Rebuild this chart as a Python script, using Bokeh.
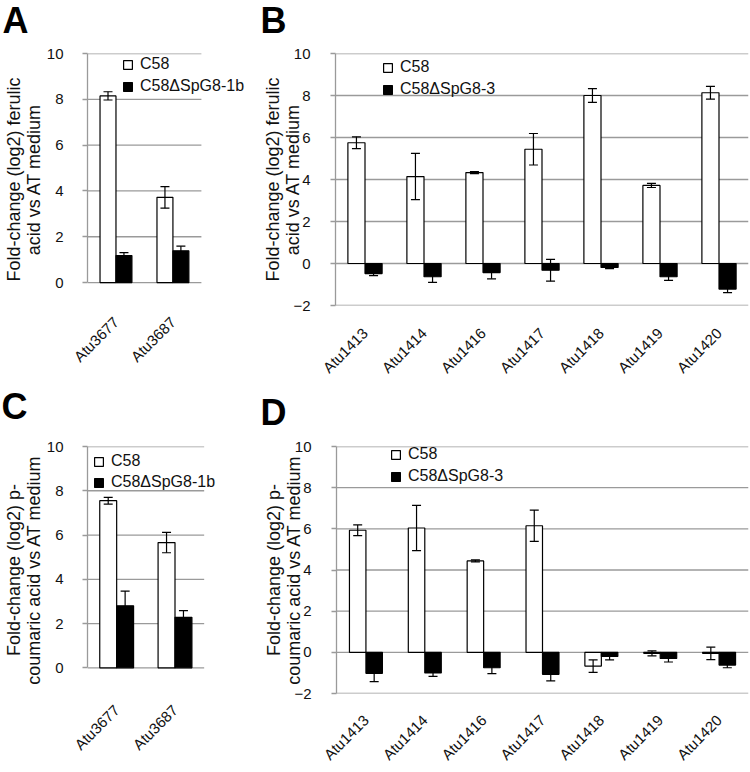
import math
from bokeh.plotting import figure
from bokeh.models import (ColumnDataSource, FixedTicker, Legend, LegendItem,
                          Whisker, TeeHead, Range1d)
from bokeh.core.properties import value
from bokeh.transform import dodge
from bokeh.layouts import column, row
from bokeh.embed import file_html
from bokeh.resources import INLINE

# ---------------- data ----------------
genes_ac = ["Atu3677", "Atu3687"]
genes_bd = ["Atu1413", "Atu1414", "Atu1416", "Atu1417", "Atu1418", "Atu1419", "Atu1420"]

a_wt = [8.15, 3.72]
a_wt_err = [0.18, 0.47]
a_mut = [1.18, 1.39]
a_mut_err = [0.13, 0.2]

b_wt = [5.75, 4.14, 4.33, 5.44, 8.0, 3.72, 8.13]
b_wt_err = [0.28, 1.1, 0.05, 0.75, 0.33, 0.1, 0.3]
b_mut = [-0.48, -0.63, -0.43, -0.32, -0.19, -0.63, -1.22]
b_mut_err = [0.1, 0.27, 0.3, 0.52, 0.05, 0.17, 0.17]

c_wt = [7.55, 5.66]
c_wt_err = [0.15, 0.46]
c_mut = [2.8, 2.28]
c_mut_err = [0.67, 0.3]

d_wt = [5.93, 6.04, 4.44, 6.15, -0.67, -0.05, -0.05]
d_wt_err = [0.26, 1.1, 0.05, 0.76, 0.3, 0.12, 0.3]
d_mut = [-1.02, -1.0, -0.75, -1.07, -0.2, -0.3, -0.62]
d_mut_err = [0.4, 0.17, 0.28, 0.32, 0.17, 0.17, 0.13]

ticks_ac = [0, 2, 4, 6, 8, 10]
ticks_bd = [-2, 0, 2, 4, 6, 8, 10]

panel_letters_top = ["A", "B"]
panel_letters_bottom = ["C", "D"]

label_ferulic = "Fold-change (log2) ferulic\nacid vs AT medium"
label_coumaric = "Fold-change (log2) p-\ncoumaric acid vs AT medium"

FONT = "Liberation Sans"
GRID = "#9a9a9a"
W = 750


def letter_strip(letters, xs, ys, h):
    """A thin strip holding the bold panel letters."""
    s = figure(width=W, height=h, x_range=Range1d(0, W), y_range=Range1d(0, h),
               x_axis_type=None, y_axis_type=None, output_backend="svg",
               toolbar_location=None, min_border=0)
    s.outline_line_color = None
    s.grid.visible = False
    s.text(x=xs, y=ys, text=letters, text_font=value(FONT), text_font_style="bold",
           text_font_size="36px", text_baseline="alphabetic", text_align="left",
           text_color="black")
    return s


def panel(cats, wt, wt_err, mut, mut_err, mut_name, ylabel, ticks,
          w, h, borders, y_start, x_end, legend_xy, legend_spacing,
          xlab_standoff, bar_w, tick_standoff, ylabel_standoff):
    left, right, top, bottom = borders
    n = len(cats)
    p = figure(width=w, height=h,
               x_range=Range1d(0, x_end),
               y_range=Range1d(y_start, ticks[-1]),
               output_backend="svg", toolbar_location=None,
               min_border_left=left, min_border_right=right,
               min_border_top=top, min_border_bottom=bottom)
    p.outline_line_color = None
    p.background_fill_color = "white"
    p.border_fill_color = "white"
    p.xgrid.visible = False
    p.ygrid.visible = False

    xpos = [i + 0.5 for i in range(n)]
    # horizontal gridlines spanning the categories only
    p.segment(x0=[0] * len(ticks), x1=[n] * len(ticks), y0=ticks, y1=ticks,
              line_color=GRID, line_width=1.3)

    src = ColumnDataSource(dict(
        x=xpos, wt=wt, mut=mut,
        wt_lo=[v - e for v, e in zip(wt, wt_err)],
        wt_hi=[v + e for v, e in zip(wt, wt_err)],
        mut_lo=[v - e for v, e in zip(mut, mut_err)],
        mut_hi=[v + e for v, e in zip(mut, mut_err)],
    ))
    off = bar_w / 2
    r1 = p.vbar(x=dodge("x", -off), top="wt", width=bar_w,
                source=src, fill_color="white", line_color="black", line_width=1.2)
    r2 = p.vbar(x=dodge("x", off), top="mut", width=bar_w,
                source=src, fill_color="black", line_color="black", line_width=1.2)
    for o, lo, hi in ((-off, "wt_lo", "wt_hi"), (off, "mut_lo", "mut_hi")):
        wk = Whisker(base=dodge("x", o), lower=lo, upper=hi,
                     source=src, line_color="black", line_width=1.2, level="annotation",
                     upper_head=TeeHead(size=9, line_color="black", line_width=1.2),
                     lower_head=TeeHead(size=9, line_color="black", line_width=1.2))
        p.add_layout(wk)

    # y axis
    p.yaxis.ticker = FixedTicker(ticks=ticks)
    p.yaxis.bounds = (ticks[0], ticks[-1])
    p.yaxis.axis_label = ylabel
    p.yaxis.axis_label_text_font = FONT
    p.yaxis.axis_label_text_font_style = "normal"
    p.yaxis.axis_label_text_font_size = "18px"
    p.yaxis.axis_label_text_line_height = 1.0
    p.yaxis.axis_label_text_color = "#111111"
    p.yaxis.axis_label_standoff = ylabel_standoff
    p.yaxis.major_label_text_font = FONT
    p.yaxis.major_label_text_font_size = "15px"
    p.yaxis.major_label_text_color = "#111111"
    p.yaxis.major_label_standoff = tick_standoff
    p.yaxis.axis_line_color = GRID
    p.yaxis.axis_line_width = 1.3
    p.yaxis.major_tick_line_color = GRID
    p.yaxis.major_tick_line_width = 1.3
    p.yaxis.major_tick_out = 5
    p.yaxis.major_tick_in = 0
    p.yaxis.minor_tick_line_color = None

    # x axis (category labels)
    p.xaxis.ticker = FixedTicker(ticks=xpos)
    p.xaxis.major_label_overrides = {x: c for x, c in zip(xpos, cats)}
    p.xaxis.axis_line_color = None
    p.xaxis.major_tick_line_color = None
    p.xaxis.minor_tick_line_color = None
    p.xaxis.major_label_orientation = math.pi / 4
    p.xaxis.major_label_text_font = FONT
    p.xaxis.major_label_text_font_size = "15px"
    p.xaxis.major_label_text_color = "#111111"
    p.xaxis.major_label_standoff = xlab_standoff

    legend = Legend(items=[LegendItem(label="C58", renderers=[r1]),
                           LegendItem(label=mut_name, renderers=[r2])],
                    location=legend_xy, orientation="vertical",
                    glyph_width=11, glyph_height=11, label_height=17,
                    label_width=20, spacing=legend_spacing, padding=0, margin=0,
                    label_standoff=7, label_text_font=FONT,
                    label_text_font_size="16px", label_text_color="#111111",
                    border_line_color=None, background_fill_alpha=0)
    p.add_layout(legend, "center")
    return p


STRIP1_H = 40    # page y 0..40
ROW1_H = 348     # page y 40..388
STRIP2_H = 42    # page y 388..430
ROW2_H = 342     # page y 430..772

strip1 = letter_strip(panel_letters_top, [2, 260], [20, 20], STRIP1_H)
strip2 = letter_strip(panel_letters_bottom, [1, 260], [24, 18], STRIP2_H)

r1_top = 53 - STRIP1_H
r1_bot = STRIP1_H + ROW1_H - 305
r2_top = 446 - (STRIP1_H + ROW1_H + STRIP2_H)
r2_bot = 772 - 696

pA = panel(genes_ac, a_wt, a_wt_err, a_mut, a_mut_err, "C58\u0394SpG8-1b",
           label_ferulic, ticks_ac, 255, ROW1_H, (83, 0, r1_top, r1_bot), -1.0, 2.95,
           (35, 210), 4, 8, 0.28, 19, 0)
pB = panel(genes_bd, b_wt, b_wt_err, b_mut, b_mut_err, "C58\u0394SpG8-3",
           label_ferulic, ticks_bd, 495, ROW1_H, (80, 2, r1_top, r1_bot), -2, 7,
           (47, 207), 4, 19, 0.29, 20, -13)
pC = panel(genes_ac, c_wt, c_wt_err, c_mut, c_mut_err, "C58\u0394SpG8-1b",
           label_coumaric, ticks_ac, 255, ROW2_H, (85, 0, r2_top, r2_bot),
           -1.16, 2.88, (6, 202), 3, 8, 0.29, 19, 0)
pD = panel(genes_bd, d_wt, d_wt_err, d_mut, d_mut_err, "C58\u0394SpG8-3",
           label_coumaric, ticks_bd, 495, ROW2_H, (81, 2, r2_top, r2_bot),
           -2, 7, (54, 208), 4, 18, 0.28, 20, -13)

layout = column(strip1, row(pA, pB, spacing=0), strip2, row(pC, pD, spacing=0), spacing=0)

with open("out.html", "w") as f:
    f.write(file_html(layout, INLINE))
